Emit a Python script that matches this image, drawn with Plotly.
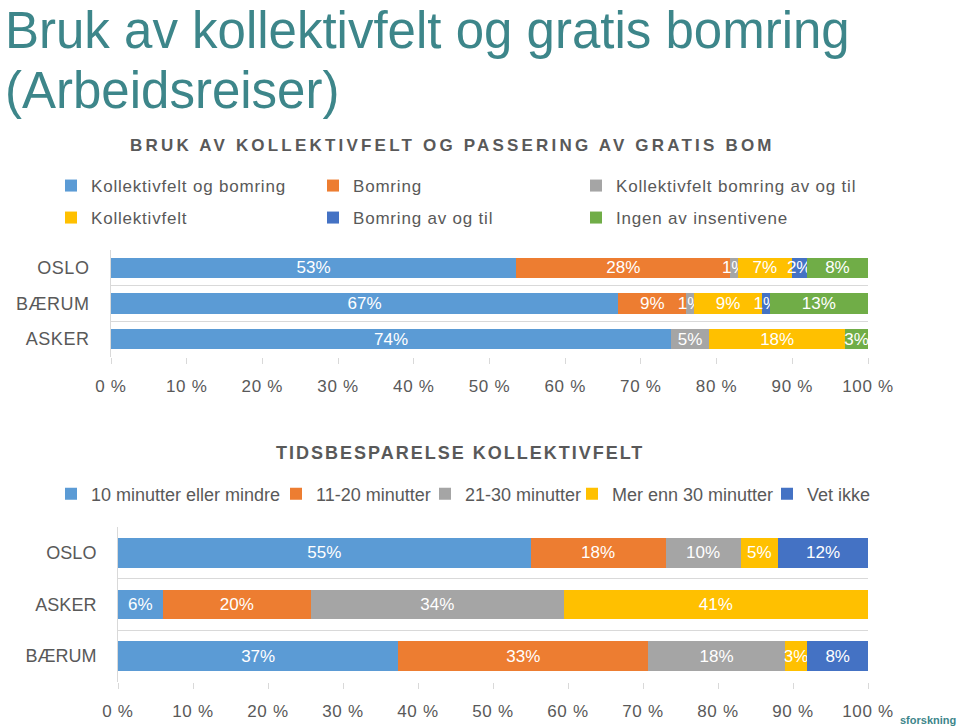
import plotly.graph_objects as go

# ---------------- data ----------------
TITLE_LINE1 = "Bruk av kollektivfelt og gratis bomring"
TITLE_LINE2 = "(Arbeidsreiser)"
CHART1_TITLE = "BRUK AV KOLLEKTIVFELT OG PASSERING AV GRATIS BOM"
CHART2_TITLE = "TIDSBESPARELSE KOLLEKTIVFELT"
LOGO_TEXT = "sforskning"

top_regions = ["OSLO", "BÆRUM", "ASKER"]
top_series = ["Kollektivfelt og bomring", "Bomring", "Kollektivfelt bomring av og til",
              "Kollektivfelt", "Bomring av og til", "Ingen av insentivene"]
top_kollektivfelt_og_bomring = [53, 67, 74]
top_bomring = [28, 9, None]
top_kf_bomring_av_og_til = [1, 1, 5]
top_kollektivfelt = [7, 9, 18]
top_bomring_av_og_til = [2, 1, None]
top_ingen = [8, 13, 3]
top_values = [top_kollektivfelt_og_bomring, top_bomring, top_kf_bomring_av_og_til,
              top_kollektivfelt, top_bomring_av_og_til, top_ingen]

bottom_regions = ["OSLO", "ASKER", "BÆRUM"]
bottom_series = ["10 minutter eller mindre", "11-20 minutter", "21-30 minutter",
                 "Mer enn 30 minutter", "Vet ikke"]
bottom_10_or_less = [55, 6, 37]
bottom_11_20 = [18, 20, 33]
bottom_21_30 = [10, 34, 18]
bottom_over_30 = [5, 41, 3]
bottom_vet_ikke = [12, None, 8]
bottom_values = [bottom_10_or_less, bottom_11_20, bottom_21_30, bottom_over_30, bottom_vet_ikke]

x_ticks = [0, 10, 20, 30, 40, 50, 60, 70, 80, 90, 100]
x_tick_labels = ["0 %", "10 %", "20 %", "30 %", "40 %", "50 %", "60 %", "70 %", "80 %", "90 %", "100 %"]

# ---------------- style ----------------
W, H = 960, 727
FONT = "Liberation Sans, Arial, Helvetica, sans-serif"
GREY_TXT = "#595959"
GRID = "#D9D9D9"
TEAL = "#3D868A"
top_colors = ["#5B9BD5", "#ED7D31", "#A5A5A5", "#FFC000", "#4472C4", "#70AD47"]
bottom_colors = ["#5B9BD5", "#ED7D31", "#A5A5A5", "#FFC000", "#4472C4"]
legend_pos_top = [(67, 186), (329, 186), (592, 186), (67, 218), (329, 218), (592, 218)]
legend_pos_bottom = [(67, 494), (292, 494), (441, 494), (588, 494), (783, 494)]


def fx(p):
    return p / W


def fy(p):
    return 1 - p / H


def spaced(s, ls):
    return f'<span style="letter-spacing:{ls}px">{s}</span>'


fig = go.Figure()
legend_layouts = {}
lcount = 0


def add_series(names, values, colors, regions, xa, ya, positions, lfont, lspace):
    global lcount
    for name, vals, col, pos in zip(names, values, colors, positions):
        lcount += 1
        lname = "legend" if lcount == 1 else f"legend{lcount}"
        fig.add_trace(go.Bar(
            y=regions, x=vals, orientation="h", name=spaced(name, lspace) if lspace else name,
            marker=dict(color=col, line=dict(width=0)),
            text=[f"{v}%" if v is not None else "" for v in vals],
            textposition="inside", insidetextanchor="middle", textangle=0,
            textfont=dict(color="white", size=17, family=FONT),
            xaxis=xa, yaxis=ya, legend=lname, hoverinfo="skip", showlegend=True,
        ))
        legend_layouts[lname] = dict(
            x=fx(pos[0] - 16), y=fy(pos[1]), xanchor="left", yanchor="middle",
            orientation="h", bgcolor="rgba(0,0,0,0)", borderwidth=0,
            font=dict(family=FONT, size=lfont, color=GREY_TXT),
            itemclick=False, itemdoubleclick=False,
        )


add_series(top_series, top_values, top_colors, top_regions, "x", "y", legend_pos_top, 17, 0.8)
add_series(bottom_series, bottom_values, bottom_colors, bottom_regions, "x2", "y2", legend_pos_bottom, 18, 0)

xcommon = dict(
    range=[0, 100], tickvals=x_ticks, ticktext=[spaced(t, 0.7) for t in x_tick_labels],
    ticks="outside", ticklen=6, tickcolor=GRID, showgrid=False, zeroline=False, showline=False,
    tickfont=dict(family=FONT, size=17, color=GREY_TXT), ticklabelstandoff=8, fixedrange=True,
    automargin=False,
)
ycommon = dict(
    type="category", autorange="reversed", tickson="boundaries", showgrid=True, gridcolor=GRID,
    gridwidth=1, showline=True, linecolor=GRID, ticks="", zeroline=False,
    tickfont=dict(family=FONT, size=18, color=GREY_TXT), ticklabelstandoff=17, fixedrange=True,
    automargin=False,
)

fig.update_layout(
    width=W, height=H, margin=dict(l=0, r=0, t=0, b=0, autoexpand=False),
    paper_bgcolor="white", plot_bgcolor="white", showlegend=True,
    barmode="stack", barnorm="percent", bargap=0.43,
    uniformtext=dict(minsize=17, mode="show"),
    font=dict(family=FONT, color=GREY_TXT),
    xaxis=dict(domain=[fx(111), fx(868)], anchor="y", **xcommon),
    yaxis=dict(domain=[fy(357), fy(250)], anchor="x", categoryorder="array",
               categoryarray=top_regions, tickvals=top_regions,
               ticktext=[spaced(r, 0.5) for r in top_regions], **ycommon),
    xaxis2=dict(domain=[fx(118), fx(868)], anchor="y2", **xcommon),
    yaxis2=dict(domain=[fy(682), fy(527)], anchor="x2", categoryorder="array",
                categoryarray=bottom_regions, **ycommon),
    **legend_layouts,
)

annotations = [
    dict(text=TITLE_LINE1, x=fx(3), y=1, xanchor="left", yanchor="top",
         font=dict(family=FONT, size=51, color=TEAL)),
    dict(text=TITLE_LINE2, x=fx(3), y=fy(90), xanchor="left", yanchor="middle",
         font=dict(family=FONT, size=51, color=TEAL)),
    dict(text="<b>" + spaced(CHART1_TITLE, 3.2) + "</b>", x=fx(452), y=fy(145), xanchor="center",
         yanchor="middle", font=dict(family=FONT, size=17, color=GREY_TXT)),
    dict(text="<b>" + spaced(CHART2_TITLE, 2) + "</b>", x=fx(460), y=fy(453), xanchor="center",
         yanchor="middle", font=dict(family=FONT, size=18, color=GREY_TXT)),
    dict(text="<b>" + LOGO_TEXT + "</b>", x=fx(958), y=fy(720), xanchor="right", yanchor="middle",
         font=dict(family=FONT, size=11, color=TEAL)),
]
for a in annotations:
    a.update(xref="paper", yref="paper", showarrow=False)
fig.update_layout(annotations=annotations)

fig.write_html("out.html", config={"displayModeBar": False},
               post_script="document.body.style.margin='0px';")
